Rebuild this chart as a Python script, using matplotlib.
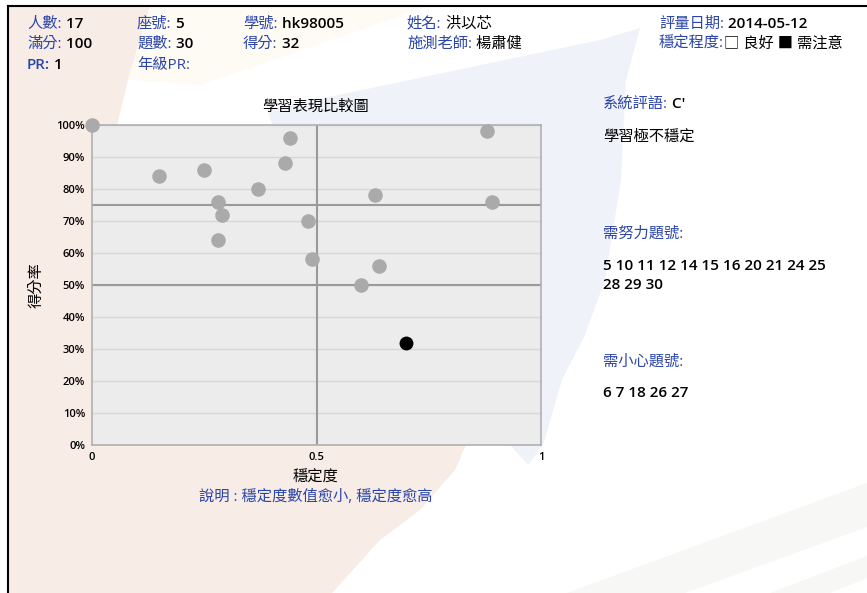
import matplotlib
matplotlib.use('Agg')
import matplotlib.pyplot as plt
from matplotlib.patches import Polygon
from matplotlib.ticker import FuncFormatter

plt.rcParams['font.family'] = ['Open Sans', 'Noto Sans CJK TC', 'DejaVu Sans']
plt.rcParams['font.weight'] = 'medium'

# 17 students: stability (x) vs score rate (y)
stability = [0.00, 0.88, 0.44, 0.43, 0.25, 0.15, 0.37, 0.63, 0.28, 0.89,
             0.29, 0.48, 0.28, 0.49, 0.64, 0.60]
score_rate = [1.00, 0.98, 0.96, 0.88, 0.86, 0.84, 0.80, 0.78, 0.76, 0.76,
              0.72, 0.70, 0.64, 0.58, 0.56, 0.50]
me_stability = [0.70]
me_score = [0.32]

header_rows = [
    [('人數:', ' 17'), ('座號:', ' 5'), ('學號:', ' hk98005'), ('姓名:', ' 洪以芯'), ('評量日期:', ' 2014-05-12')],
    [('滿分:', ' 100'), ('題數:', ' 30'), ('得分:', ' 32'), ('施測老師:', ' 楊肅健'), ('穩定程度:', '□ 良好 ■ 需注意')],
    [('PR:', ' 1'), ('年級PR:', '')],
]
work_hard = ['5 10 11 12 14 15 16 20 21 24 25', '28 29 30']
be_careful = ['6 7 18 26 27']

W, H = 867, 593
BLUE = '#2b45a8'
FS = 11

fig = plt.figure(figsize=(W / 100, H / 100), dpi=100)
renderer = fig.canvas.get_renderer()


def fx(x):
    return x / W


def fy(y):
    return 1 - y / H


def wt(s):
    # latin-only strings get a heavier weight, CJK stays regular
    return 'semibold' if s.isascii() else 'normal'


def shape(pts, color):
    p = Polygon([(fx(a), fy(b)) for a, b in pts], closed=True, transform=fig.transFigure,
                facecolor=color, edgecolor='none', zorder=-5)
    fig.add_artist(p)


# faded watermark shapes in the background
shape([(8, 6), (150, 6), (128, 80), (117, 125), (300, 300), (430, 400), (468, 440),
       (455, 470), (420, 510), (380, 540), (332, 593), (8, 593)], '#f7ece6')
shape([(150, 6), (430, 6), (200, 85), (128, 80)], '#fdfbf3')
shape([(267, 110), (600, 40), (640, 28), (626, 80), (621, 180), (605, 280), (585, 335),
       (562, 380), (543, 445), (528, 465), (470, 400), (380, 300), (300, 200)], '#f0f2f9')
shape([(567, 593), (867, 483), (867, 527), (685, 593)], '#f7f7f5')
shape([(770, 593), (867, 556), (867, 578), (830, 593)], '#f7f7f5')

# frame lines
fig.add_artist(plt.Line2D([fx(8), fx(8)], [fy(6), 0], transform=fig.transFigure, color='black', lw=1.5))
fig.add_artist(plt.Line2D([fx(8), 1], [fy(6), fy(6)], transform=fig.transFigure, color='black', lw=1.5))


def pair(x, y, label, value, size=FS):
    t = fig.text(fx(x), fy(y), label, color=BLUE, fontsize=size, ha='left', va='center',
                 fontweight=wt(label))
    bb = t.get_window_extent(renderer)
    if value:
        fig.text(bb.x1 / W, fy(y), value, color='black', fontsize=size, ha='left', va='center',
                 fontweight=wt(value))


def line_text(x, y, s, color='black'):
    fig.text(fx(x), fy(y), s, fontsize=FS, ha='left', va='center', color=color, fontweight=wt(s))


cols = [27, 137, 243, 407, 659]
rows = [24, 44, 65]
for r, row in enumerate(header_rows):
    for c, (lab, val) in enumerate(row):
        pair(cols[c], rows[r], lab, val)

# scatter chart
ax = fig.add_axes([fx(92), fy(445), 449 / W, 320 / H])
ax.set_facecolor('#ececec')
ax.set_xlim(0, 1)
ax.set_ylim(0, 1)
ax.set_yticks([i / 10 for i in range(11)])
ax.set_xticks([0, 0.5, 1])
ax.yaxis.set_major_formatter(FuncFormatter(lambda v, p: f'{round(v * 100)}%'))
ax.xaxis.set_major_formatter(FuncFormatter(lambda v, p: {0: '0', 0.5: '0.5', 1: '1'}.get(v, '')))
ax.tick_params(length=0, labelsize=8, pad=5)
ax.grid(axis='y', color='#d6d6d6', lw=1)
ax.set_axisbelow(True)
for s in ax.spines.values():
    s.set_color('#b0b0b0')
    s.set_linewidth(1.2)
ax.axvline(0.5, color='#9a9a9a', lw=1.5, zorder=1)
ax.axhline(0.75, color='#9a9a9a', lw=1.5, zorder=1)
ax.axhline(0.5, color='#9a9a9a', lw=1.5, zorder=1)
ax.scatter(stability, score_rate, s=110, color='#aaaaaa', zorder=3, clip_on=False, linewidths=0)
ax.scatter(me_stability, me_score, s=100, color='black', zorder=4, clip_on=False, linewidths=0)
for lab in ax.get_xticklabels() + ax.get_yticklabels():
    lab.set_fontweight('semibold')

fig.text(fx(316), fy(107), '學習表現比較圖', fontsize=FS, ha='center', va='center')
fig.text(fx(37), fy(285), '得分率', fontsize=FS, ha='center', va='center', rotation=90)
fig.text(fx(316), fy(478), '穩定度', fontsize=FS, ha='center', va='center')
fig.text(fx(316), fy(497), '說明 : 穩定度數值愈小, 穩定度愈高', fontsize=FS, ha='center', va='center', color=BLUE)

# right side comments
pair(603, 104, '系統評語:', " C'")
line_text(603, 137, '學習極不穩定')
line_text(603, 234, '需努力題號:', BLUE)
for i, s in enumerate(work_hard):
    line_text(603, 266 + i * 19, s)
line_text(603, 362, '需小心題號:', BLUE)
for i, s in enumerate(be_careful):
    line_text(603, 393 + i * 19, s)

fig.savefig('out.png', dpi=100)
